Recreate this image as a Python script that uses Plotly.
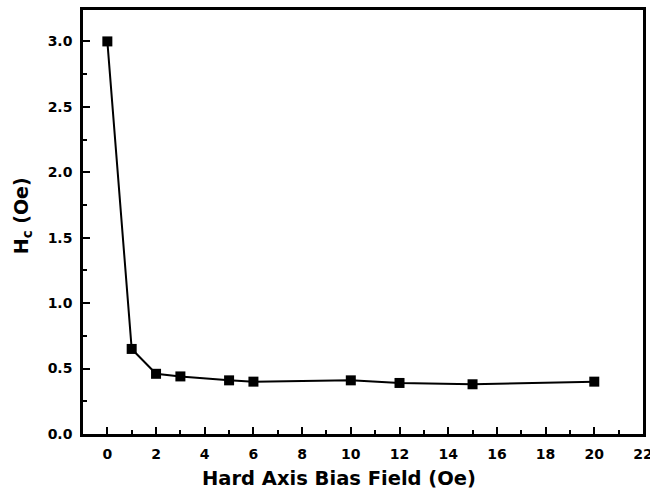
import plotly.graph_objects as go

bias_field = [0, 1, 2, 3, 5, 6, 10, 12, 15, 20]
hc = [3.0, 0.65, 0.46, 0.44, 0.41, 0.40, 0.41, 0.39, 0.38, 0.40]
x_ticks = [0, 2, 4, 6, 8, 10, 12, 14, 16, 18, 20, 22]
y_ticks = [0.0, 0.5, 1.0, 1.5, 2.0, 2.5, 3.0]

fig = go.Figure(go.Scatter(
    x=bias_field, y=hc, mode="lines+markers",
    line=dict(color="black", width=2),
    marker=dict(symbol="square", size=10, color="black"),
))

font = dict(family="DejaVu Sans, Liberation Sans, Arial, sans-serif", color="black")
axis_common = dict(
    showline=True, linecolor="black", linewidth=2.5, mirror=True,
    ticks="inside", ticklen=7, tickwidth=2, tickcolor="black",
    showgrid=False, zeroline=False, ticklabelstandoff=5,
    ticklabeloverflow="allow",
    tickfont=dict(size=14, **font),
)
fig.update_xaxes(
    range=[-1, 22.001], tickvals=x_ticks, ticktext=[f"<b>{v}</b>" for v in x_ticks],
    minor=dict(ticks="inside", ticklen=4, tickwidth=2, tickcolor="black", dtick=1, tick0=0),
    **axis_common,
)
fig.update_yaxes(
    range=[0, 3.24], tickvals=y_ticks, ticktext=[f"<b>{v:.1f}</b>" for v in y_ticks],
    minor=dict(ticks="inside", ticklen=4, tickwidth=2, tickcolor="black", dtick=0.25, tick0=0),
    **axis_common,
)
fig.add_annotation(
    text="<b>Hard Axis Bias Field (Oe)</b>", xref="paper", yref="paper",
    x=0.457, y=-0.104, showarrow=False, xanchor="center", yanchor="middle",
    font=dict(size=19.5, **font),
)
fig.add_annotation(
    text="<b>H<sub>c</sub> (Oe)</b>", xref="paper", yref="paper",
    x=-0.109, y=0.516, showarrow=False, xanchor="center", yanchor="middle",
    textangle=-90, font=dict(size=19, **font),
)
fig.update_layout(
    width=650, height=493, showlegend=False,
    margin=dict(l=83, r=7, t=10, b=59, autoexpand=False),
    paper_bgcolor="white", plot_bgcolor="white",
)
fig.write_html("out.html", post_script="document.body.style.margin='0';",
               config={"displayModeBar": False})
